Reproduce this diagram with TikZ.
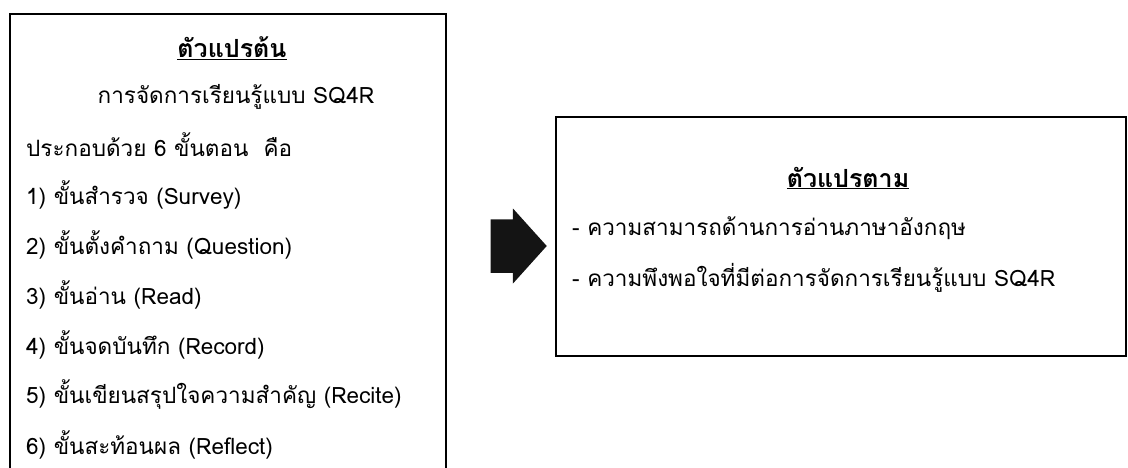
\documentclass[tikz,border=0pt]{standalone}
\usepackage{fontspec}
\newfontfamily\thaifont[Script=Thai]{Loma}
\usetikzlibrary{shapes.arrows}

\begin{document}
\begin{tikzpicture}[x=1pt, y=-1pt,
  box/.style={draw, line width=1.6pt, anchor=north west, inner sep=0pt},
  txt/.style={font=\thaifont\fontsize{22.5}{27}\selectfont, anchor=west, inner sep=0pt},
  head/.style={txt, anchor=center, font=\thaifont\bfseries\fontsize{25}{30}\selectfont}]
  \useasboundingbox (0,0) rectangle (1128,467);
  \clip (0,0) rectangle (1128,467);
  % the two boxes
  \node[box, minimum width=436pt, minimum height=500pt] (indep) at (9,13) {};
  \node[box, minimum width=570pt, minimum height=239pt] (dep) at (555,116) {};
  % left box
  \node[head] (indep-title) at (232,48) {\underline{ตัวแปรต้น}};
  \node[txt, anchor=center] (method) at (236,97) {การจัดการเรียนรู้แบบ SQ4R};
  \node[txt] (steps) at (26,145) {ประกอบด้วย 6 ขั้นตอน\ \ คือ};
  \foreach \t [count=\i] in {ขั้นสำรวจ (Survey), ขั้นตั้งคำถาม (Question), ขั้นอ่าน (Read),
      ขั้นจดบันทึก (Record), ขั้นเขียนสรุปใจความสำคัญ (Recite), ขั้นสะท้อนผล (Reflect)}
    \node[txt] (step\i) at (26,145+50*\i) {\i) \t};
  % arrow
  \node[single arrow, fill=black!92, draw=none, inner xsep=0pt, inner ysep=17.5pt,
        minimum height=56pt, minimum width=75pt, single arrow tip angle=96,
        anchor=tip] (flow) at (547,246) {};
  % right box
  \node[head] (dep-title) at (848,178) {\underline{ตัวแปรตาม}};
  \node[txt] (ability) at (572,228) {- ความสามารถด้านการอ่านภาษาอังกฤษ};
  \node[txt] (satisfy) at (572,278) {- ความพึงพอใจที่มีต่อการจัดการเรียนรู้แบบ SQ4R};
\end{tikzpicture}
\end{document}
